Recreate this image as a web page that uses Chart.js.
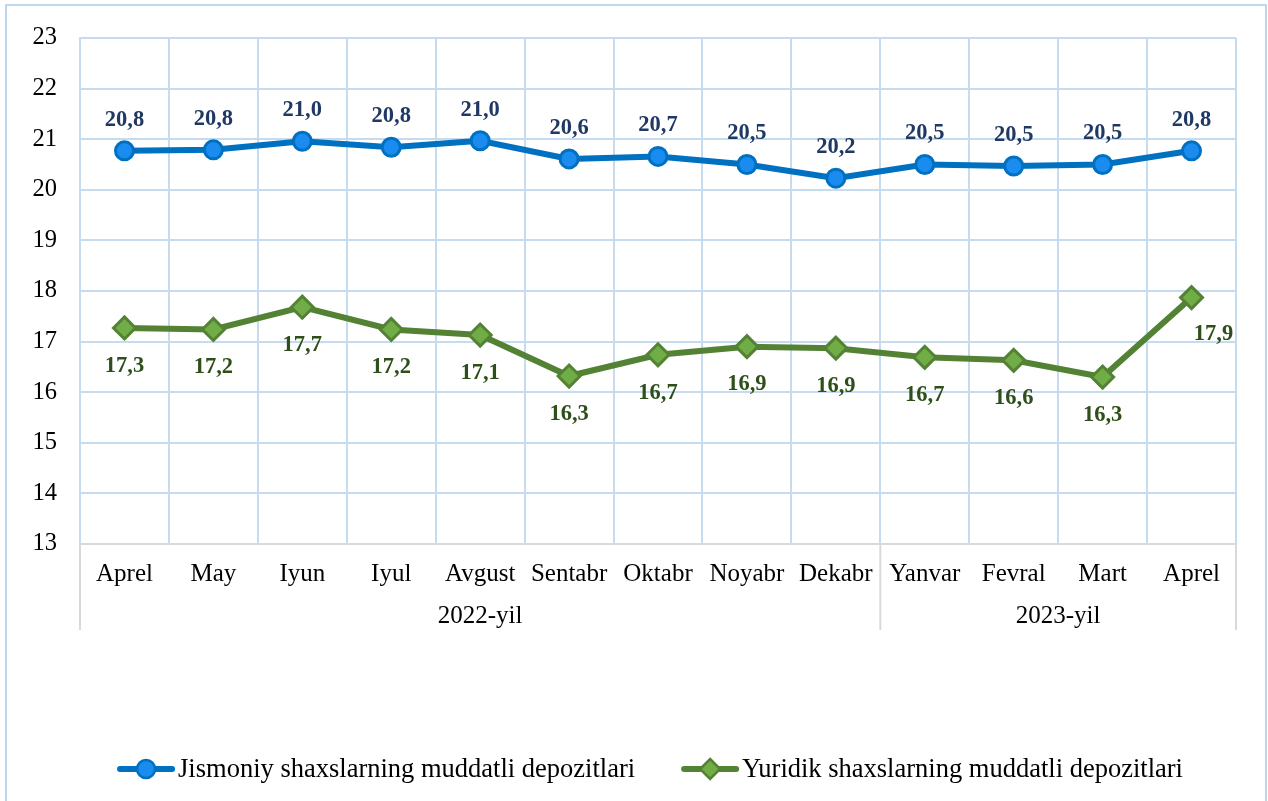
<!DOCTYPE html>
<html>
<head>
<meta charset="utf-8">
<script src="https://cdn.jsdelivr.net/npm/chart.js@4.4.1/dist/chart.umd.min.js"></script>
<style>
  html, body { margin: 0; padding: 0; background: #ffffff; }
  #wrap { position: relative; width: 1268px; height: 801px; }
</style>
</head>
<body>
<div id="wrap"><canvas id="c" width="1268" height="801"></canvas></div>
<script>
const months = ['Aprel', 'May', 'Iyun', 'Iyul', 'Avgust', 'Sentabr', 'Oktabr', 'Noyabr', 'Dekabr', 'Yanvar', 'Fevral', 'Mart', 'Aprel'];
const yearGroups = ['2022-yil', '2023-yil'];
const yearGroupSizes = [9, 4];
const seriesNames = ['Jismoniy shaxslarning muddatli depozitlari', 'Yuridik shaxslarning muddatli depozitlari'];
const jismoniy = [20.77, 20.79, 20.96, 20.84, 20.97, 20.61, 20.66, 20.50, 20.23, 20.50, 20.47, 20.50, 20.77];
const yuridik = [17.27, 17.24, 17.68, 17.24, 17.13, 16.32, 16.74, 16.90, 16.87, 16.69, 16.63, 16.30, 17.87];
const yMin = 13, yMax = 23, yStep = 1;

const SERIF = '"Liberation Serif", "Times New Roman", serif';
const GRID = '#C5DBF0';
const SEP = '#D9D9D9';
const BLUE = '#0070C0', BLUE_FILL = '#1A8CF0', BLUE_LABEL = '#1F3864';
const GREEN = '#548235', GREEN_FILL = '#70AD47', GREEN_LABEL = '#2F4F1A';

const fmt = v => v.toFixed(1).replace('.', ',');

function drawDiamond(ctx, x, y, r, fill, stroke, lw) {
  ctx.beginPath();
  ctx.moveTo(x, y - r); ctx.lineTo(x + r, y); ctx.lineTo(x, y + r); ctx.lineTo(x - r, y); ctx.closePath();
  ctx.fillStyle = fill; ctx.fill();
  ctx.lineWidth = lw; ctx.strokeStyle = stroke; ctx.stroke();
}
function drawCircle(ctx, x, y, r, fill, stroke, lw) {
  ctx.beginPath(); ctx.arc(x, y, r, 0, Math.PI * 2);
  ctx.fillStyle = fill; ctx.fill();
  ctx.lineWidth = lw; ctx.strokeStyle = stroke; ctx.stroke();
}

const framePlugin = {
  id: 'frame',
  beforeDraw(chart) {
    const ctx = chart.ctx;
    ctx.save();
    ctx.fillStyle = '#fff';
    ctx.fillRect(0, 0, chart.width, chart.height);
    ctx.strokeStyle = '#BDD7EE';
    ctx.lineWidth = 2;
    ctx.strokeRect(6, 5, 1260, 810);
    ctx.restore();
  }
};

const groupPlugin = {
  id: 'groups',
  afterDraw(chart) {
    const ctx = chart.ctx;
    const area = chart.chartArea;
    const n = months.length;
    const w = (area.right - area.left) / n;
    ctx.save();
    ctx.strokeStyle = SEP;
    ctx.lineWidth = 2;
    let idx = 0;
    const bounds = [0];
    yearGroupSizes.forEach(s => { idx += s; bounds.push(idx); });
    bounds.forEach(b => {
      const x = area.left + b * w;
      ctx.beginPath(); ctx.moveTo(x, area.bottom); ctx.lineTo(x, area.bottom + 86); ctx.stroke();
    });
    ctx.fillStyle = '#000';
    ctx.font = '25px ' + SERIF;
    ctx.textAlign = 'center';
    ctx.textBaseline = 'middle';
    for (let g = 0; g < yearGroups.length; g++) {
      const x0 = area.left + bounds[g] * w, x1 = area.left + bounds[g + 1] * w;
      ctx.fillText(yearGroups[g], (x0 + x1) / 2, area.bottom + 72);
    }
    ctx.restore();
  }
};

const labelPlugin = {
  id: 'valueLabels',
  afterDatasetsDraw(chart) {
    const ctx = chart.ctx;
    ctx.save();
    ctx.font = 'bold 22.5px ' + SERIF;
    ctx.textAlign = 'center';
    ctx.textBaseline = 'middle';
    chart.data.datasets.forEach((ds, di) => {
      const meta = chart.getDatasetMeta(di);
      meta.data.forEach((pt, i) => {
        const v = ds.data[i];
        let x = pt.x, y = pt.y;
        if (di === 0) { y -= 31; ctx.fillStyle = BLUE_LABEL; }
        else {
          ctx.fillStyle = GREEN_LABEL;
          if (i === ds.data.length - 1) { x += 22; y += 37; } else { y += 38; }
        }
        ctx.fillText(fmt(v), x, y);
      });
    });
    ctx.restore();
  }
};

const legendPlugin = {
  id: 'customLegend',
  afterDraw(chart) {
    const ctx = chart.ctx;
    ctx.save();
    ctx.font = '26.5px ' + SERIF;
    ctx.textBaseline = 'middle';
    ctx.textAlign = 'left';
    const seg = 58, gapText = 3, gapItems = 46;
    const widths = seriesNames.map(t => ctx.measureText(t).width);
    const total = seg * 2 + gapText * 2 + widths[0] + widths[1] + gapItems;
    let x = 650 - total / 2;
    const y = 769;
    const styles = [
      { line: BLUE, fill: BLUE_FILL, shape: 'circle' },
      { line: GREEN, fill: GREEN_FILL, shape: 'diamond' }
    ];
    seriesNames.forEach((name, i) => {
      const st = styles[i];
      ctx.strokeStyle = st.line; ctx.lineWidth = 6; ctx.lineCap = 'round';
      ctx.beginPath(); ctx.moveTo(x + 3, y); ctx.lineTo(x + seg - 3, y); ctx.stroke();
      if (st.shape === 'circle') drawCircle(ctx, x + seg / 2, y, 9, st.fill, st.line, 2.5);
      else drawDiamond(ctx, x + seg / 2, y, 10, st.fill, st.line, 2.5);
      ctx.fillStyle = '#000';
      ctx.fillText(name, x + seg + gapText, y + 1);
      x += seg + gapText + widths[i] + gapItems;
    });
    ctx.restore();
  }
};

new Chart(document.getElementById('c'), {
  type: 'line',
  data: {
    labels: months,
    datasets: [
      {
        label: seriesNames[0],
        data: jismoniy,
        borderColor: BLUE,
        borderWidth: 6,
        backgroundColor: BLUE_FILL,
        pointBackgroundColor: BLUE_FILL,
        pointBorderColor: BLUE,
        pointBorderWidth: 3,
        pointRadius: 9,
        pointStyle: 'circle',
        tension: 0
      },
      {
        label: seriesNames[1],
        data: yuridik,
        borderColor: GREEN,
        borderWidth: 6,
        backgroundColor: GREEN_FILL,
        pointBackgroundColor: GREEN_FILL,
        pointBorderColor: GREEN,
        pointBorderWidth: 3,
        pointRadius: 11,
        pointStyle: 'rectRot',
        tension: 0
      }
    ]
  },
  options: {
    responsive: false,
    animation: false,
    devicePixelRatio: 1,
    layout: { padding: { left: 0, right: 32, top: 38, bottom: 0 } },
    plugins: {
      legend: { display: false },
      tooltip: { enabled: false }
    },
    scales: {
      x: {
        offset: true,
        grid: { offset: true, color: GRID, lineWidth: 2, drawTicks: false },
        border: { display: true, color: SEP, width: 2 },
        ticks: { color: '#000', font: { family: SERIF, size: 25 }, padding: 15, maxRotation: 0, autoSkip: false },
        afterFit(scale) { scale.height = 801 - 544; }
      },
      y: {
        min: yMin, max: yMax,
        grid: { color: GRID, lineWidth: 2, drawTicks: false },
        border: { display: true, color: GRID, width: 2 },
        ticks: { stepSize: yStep, color: '#000', font: { family: SERIF, size: 24.5 }, padding: 23 },
        afterFit(scale) { scale.width = 80; }
      }
    }
  },
  plugins: [framePlugin, groupPlugin, labelPlugin, legendPlugin]
});
</script>
</body>
</html>
